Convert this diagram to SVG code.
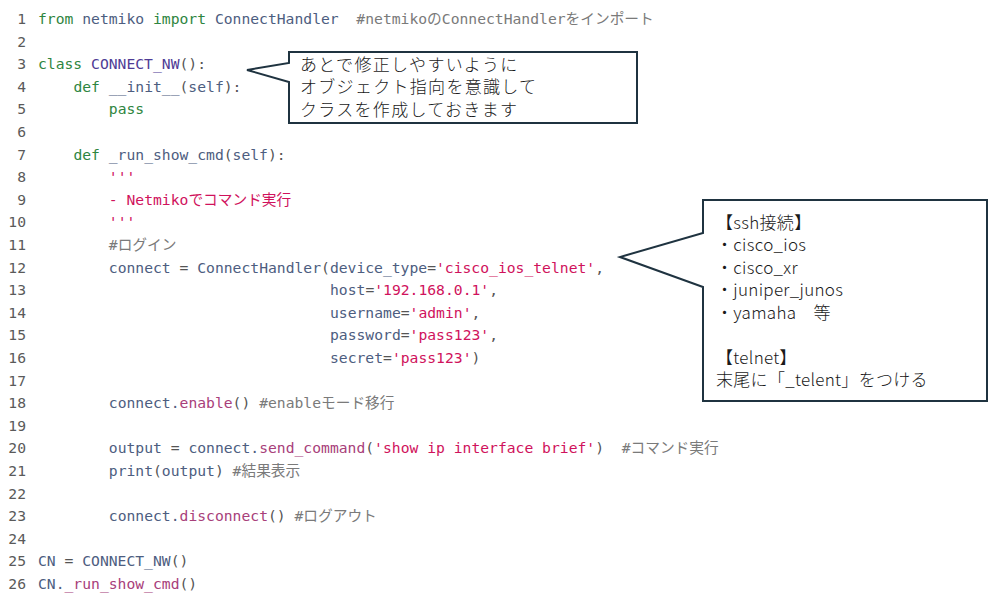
<svg xmlns="http://www.w3.org/2000/svg" width="1000" height="595" viewBox="0 0 1000 595">
<style>
.code text{font-family:"DejaVu Sans Mono","Noto Sans CJK JP",monospace;font-size:14.7px;fill:#555;white-space:pre}
.code .ln{fill:#5a5a5a;text-anchor:end}
.code .k{fill:#2e8540}
.code .i{fill:#4d5d80}
.code .cl{fill:#4f3c95}
.code .m{fill:#a8407a}
.code .s{fill:#d0125c}
.code .c{fill:#7a7a7a}
.code .p{fill:#555}
.box{fill:#fff;stroke:#1f3340;stroke-width:2;stroke-linejoin:miter}
.note{font-family:"Noto Sans CJK JP","Noto Sans",sans-serif;font-size:17px;font-weight:300;fill:#1a1a1a;white-space:pre}
</style>
<rect x="0" y="0" width="1000" height="595" fill="#fff"/>
<g id="code" class="code" xml:space="preserve">
<g id="line-numbers">
<text class="ln" x="26" y="24">1</text>
<text class="ln" x="26" y="46.6">2</text>
<text class="ln" x="26" y="69.2">3</text>
<text class="ln" x="26" y="91.8">4</text>
<text class="ln" x="26" y="114.4">5</text>
<text class="ln" x="26" y="137">6</text>
<text class="ln" x="26" y="159.6">7</text>
<text class="ln" x="26" y="182.2">8</text>
<text class="ln" x="26" y="204.8">9</text>
<text class="ln" x="26" y="227.4">10</text>
<text class="ln" x="26" y="250">11</text>
<text class="ln" x="26" y="272.6">12</text>
<text class="ln" x="26" y="295.2">13</text>
<text class="ln" x="26" y="317.8">14</text>
<text class="ln" x="26" y="340.4">15</text>
<text class="ln" x="26" y="363">16</text>
<text class="ln" x="26" y="385.6">17</text>
<text class="ln" x="26" y="408.2">18</text>
<text class="ln" x="26" y="430.8">19</text>
<text class="ln" x="26" y="453.4">20</text>
<text class="ln" x="26" y="476">21</text>
<text class="ln" x="26" y="498.6">22</text>
<text class="ln" x="26" y="521.2">23</text>
<text class="ln" x="26" y="543.8">24</text>
<text class="ln" x="26" y="566.4">25</text>
<text class="ln" x="26" y="589">26</text>
</g>
<text x="38" y="24"><tspan class="k">from</tspan> <tspan class="i">netmiko</tspan> <tspan class="k">import</tspan> <tspan class="i">ConnectHandler</tspan>  <tspan class="c">#netmikoのConnectHandlerをインポート</tspan></text>
<text x="38" y="69.2"><tspan class="k">class</tspan> <tspan class="cl">CONNECT_NW</tspan><tspan class="p">():</tspan></text>
<text x="73.4" y="91.8"><tspan class="k">def</tspan> <tspan class="i">__init__</tspan><tspan class="p">(</tspan><tspan class="i">self</tspan><tspan class="p">):</tspan></text>
<text x="108.8" y="114.4"><tspan class="k">pass</tspan></text>
<text x="73.4" y="159.6"><tspan class="k">def</tspan> <tspan class="i">_run_show_cmd</tspan><tspan class="p">(</tspan><tspan class="i">self</tspan><tspan class="p">):</tspan></text>
<text x="108.8" y="182.2" class="s">'''</text>
<text x="108.8" y="204.8" class="s">- Netmikoでコマンド実行</text>
<text x="108.8" y="227.4" class="s">'''</text>
<text x="108.8" y="250" class="c">#ログイン</text>
<text x="108.8" y="272.6"><tspan class="i">connect</tspan> <tspan class="p">=</tspan> <tspan class="i">ConnectHandler</tspan><tspan class="p">(</tspan><tspan class="i">device_type</tspan><tspan class="p">=</tspan><tspan class="s">'cisco_ios_telnet'</tspan><tspan class="p">,</tspan></text>
<text x="330" y="295.2"><tspan class="i">host</tspan><tspan class="p">=</tspan><tspan class="s">'192.168.0.1'</tspan><tspan class="p">,</tspan></text>
<text x="330" y="317.8"><tspan class="i">username</tspan><tspan class="p">=</tspan><tspan class="s">'admin'</tspan><tspan class="p">,</tspan></text>
<text x="330" y="340.4"><tspan class="i">password</tspan><tspan class="p">=</tspan><tspan class="s">'pass123'</tspan><tspan class="p">,</tspan></text>
<text x="330" y="363"><tspan class="i">secret</tspan><tspan class="p">=</tspan><tspan class="s">'pass123'</tspan><tspan class="p">)</tspan></text>
<text x="108.8" y="408.2"><tspan class="i">connect.</tspan><tspan class="m">enable</tspan><tspan class="p">()</tspan> <tspan class="c">#enableモード移行</tspan></text>
<text x="108.8" y="453.4"><tspan class="i">output</tspan> <tspan class="p">=</tspan> <tspan class="i">connect.</tspan><tspan class="m">send_command</tspan><tspan class="p">(</tspan><tspan class="s">'show ip interface brief'</tspan><tspan class="p">)</tspan>  <tspan class="c">#コマンド実行</tspan></text>
<text x="108.8" y="476"><tspan class="i">print</tspan><tspan class="p">(</tspan><tspan class="i">output</tspan><tspan class="p">)</tspan> <tspan class="c">#結果表示</tspan></text>
<text x="108.8" y="521.2"><tspan class="i">connect.</tspan><tspan class="m">disconnect</tspan><tspan class="p">()</tspan> <tspan class="c">#ログアウト</tspan></text>
<text x="38" y="566.4"><tspan class="i">CN</tspan> <tspan class="p">=</tspan> <tspan class="i">CONNECT_NW</tspan><tspan class="p">()</tspan></text>
<text x="38" y="589"><tspan class="i">CN.</tspan><tspan class="m">_run_show_cmd</tspan><tspan class="p">()</tspan></text>
</g>
<g id="callout-class">
<path class="box" d="M289,52 H637 V123 H289 V82 L247,70 L289,63 Z"/>
<text class="note" x="300" y="70.5" letter-spacing="1.3">あとで修正しやすいように</text>
<text class="note" x="300" y="93" letter-spacing="1.3">オブジェクト指向を意識して</text>
<text class="note" x="300" y="115.5" letter-spacing="1.3">クラスを作成しておきます</text>
</g>
<g id="callout-device-type">
<path class="box" d="M703,200 H987 V401 H703 V287 L620,257 L703,233 Z"/>
<text class="note" x="716" y="228.5" letter-spacing="0.3">【ssh接続】</text>
<text class="note" x="716" y="251" letter-spacing="0.3">・cisco_ios</text>
<text class="note" x="716" y="273.5" letter-spacing="0.3">・cisco_xr</text>
<text class="note" x="716" y="296" letter-spacing="0.3">・juniper_junos</text>
<text class="note" x="716" y="318.5" letter-spacing="0.3">・yamaha　等</text>
<text class="note" x="716" y="363.5" letter-spacing="0.3">【telnet】</text>
<text class="note" x="716" y="386" letter-spacing="0.3">末尾に「_telent」をつける</text>
</g>
</svg>
